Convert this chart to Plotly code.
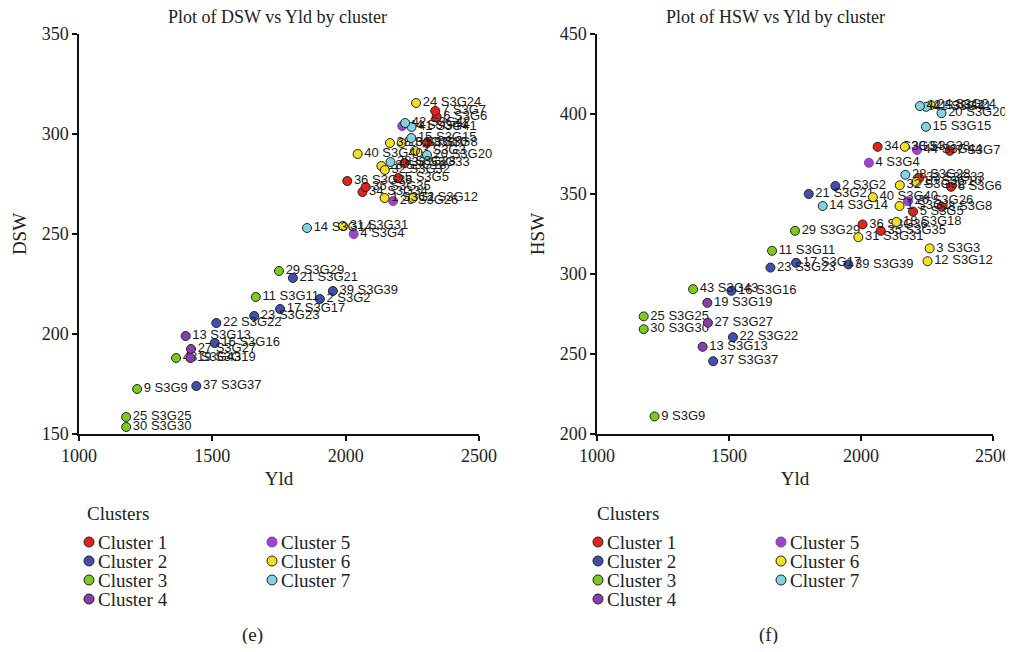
import plotly.graph_objects as go

# ---- data ----
genotype = [1, 2, 3, 4, 5, 6, 7, 8, 9, 10, 11, 12, 13, 14, 15, 16, 17, 18, 19, 20, 21, 22,
            23, 24, 25, 26, 27, 28, 29, 30, 31, 32, 33, 34, 35, 36, 37, 38, 39, 40, 41, 42, 43, 44]
cluster = [6, 2, 6, 5, 1, 1, 1, 1, 3, 6, 3, 6, 4, 7, 7, 2, 2, 6, 4, 7, 2, 2,
           2, 6, 3, 5, 4, 7, 3, 3, 6, 6, 1, 1, 1, 1, 2, 6, 2, 6, 7, 7, 3, 5]
yld = [2146, 1903, 2260, 2030, 2197, 2341, 2336, 2305, 1218, 2210, 1663, 2252, 1400, 1855, 2246, 1509,
       1754, 2134, 1418, 2305, 1802, 1515, 1657, 2264, 1177, 2178, 1420, 2168, 1750, 1177, 1990, 2147,
       2221, 2063, 2075, 2006, 1440, 2166, 1952, 2045, 2247, 2223, 1364, 2212]
dsw = [268, 217.5, 291.5, 250, 278, 308.5, 311.5, 295.5, 172.5, 295.5, 218.5, 268, 199, 253, 298, 195.5,
       212.5, 284, 188, 289.5, 228, 205.5, 209, 315.5, 158.5, 266.5, 192.5, 286, 231.5, 153.5, 254, 282,
       285.5, 271, 273.5, 276.5, 174, 295.5, 221.5, 290, 303.5, 305.5, 188, 304]
hsw = [342.5, 355, 316, 369.5, 339, 354.5, 377, 342, 211, 357.5, 314.5, 308, 254.5, 342.5, 392, 289.5,
       307, 332.5, 282, 400.5, 350, 260.5, 304, 405.5, 273.5, 345.5, 269.5, 362, 327, 265.5, 323, 355.5,
       360, 379.5, 327, 331, 245.5, 379.5, 306, 348, 404.5, 405, 290.5, 377.5]

cluster_names = ["Cluster 1", "Cluster 2", "Cluster 3", "Cluster 4", "Cluster 5", "Cluster 6", "Cluster 7"]
cluster_colors = ["#E3241C", "#4150B0", "#7CCB1C", "#8A3DAE", "#9C45CC", "#F4E01C", "#80D2E4"]
cluster_lines = ["#222222", "#222222", "#222222", "#222222", "#8A38B8", "#222222", "#222222"]

x_ticks = [1000, 1500, 2000, 2500]
dsw_ticks = [150, 200, 250, 300, 350]
hsw_ticks = [200, 250, 300, 350, 400, 450]

# page is 1013x652; the html body has an 8px margin, so the figure is smaller
OFF = 8
W, H = 1013 - 2 * OFF, 652 - 2 * OFF
SERIF = "Liberation Serif, Times New Roman, serif"
SANS = "Liberation Sans, Arial, sans-serif"

fig = go.Figure()

for ci, name in enumerate(cluster_names, start=1):
    idx = [i for i, c in enumerate(cluster) if c == ci]
    labels = [f"{genotype[i]} S3G{genotype[i]}" for i in idx]
    common = dict(
        mode="markers+text",
        text=labels,
        textposition="middle right",
        textfont=dict(family=SANS, size=13, color="#1a1a1a"),
        marker=dict(size=9, color=cluster_colors[ci - 1],
                    line=dict(color=cluster_lines[ci - 1], width=1)),
        cliponaxis=False,
        showlegend=False,
        name=name,
    )
    fig.add_trace(go.Scatter(x=[yld[i] for i in idx], y=[dsw[i] for i in idx],
                             xaxis="x", yaxis="y", **common))
    fig.add_trace(go.Scatter(x=[yld[i] for i in idx], y=[hsw[i] for i in idx],
                             xaxis="x2", yaxis="y2", **common))


def px(xp):
    return (xp - OFF) / W


def py(yp):
    return 1 - (yp - OFF) / H


axis_common = dict(
    showline=True, linecolor="#111", linewidth=1.5, ticks="outside", ticklen=5,
    tickwidth=1.5, tickcolor="#111", showgrid=False, zeroline=False,
    tickfont=dict(family=SERIF, size=18, color="#222"), automargin=False,
    ticklabeloverflow="allow",
)

fig.update_layout(
    width=W, height=H,
    margin=dict(l=0, r=0, t=0, b=0),
    paper_bgcolor="white", plot_bgcolor="white",
    xaxis=dict(domain=[px(79), px(479)], range=[1000, 2500], tickvals=x_ticks, anchor="y",
               title=dict(text="Yld", font=dict(family=SERIF, size=19, color="#222"), standoff=6),
               **axis_common),
    yaxis=dict(domain=[py(434), py(34)], range=[150, 350], tickvals=dsw_ticks, anchor="x",
               title=dict(text="DSW", font=dict(family=SERIF, size=19, color="#222"), standoff=10),
               **axis_common),
    xaxis2=dict(domain=[px(597), px(993)], range=[1000, 2500], tickvals=x_ticks, anchor="y2",
                title=dict(text="Yld", font=dict(family=SERIF, size=19, color="#222"), standoff=6),
                **axis_common),
    yaxis2=dict(domain=[py(434), py(34)], range=[200, 450], tickvals=hsw_ticks, anchor="x2",
                title=dict(text="HSW", font=dict(family=SERIF, size=19, color="#222"), standoff=10),
                **axis_common),
)

annotations = []
shapes = []


def text_ann(txt, x, y, size, xanchor="left"):
    annotations.append(dict(text=txt, x=px(x), y=py(y), xref="paper", yref="paper",
                            xanchor=xanchor, yanchor="middle", showarrow=False,
                            font=dict(family=SERIF, size=size, color="#222")))


# titles
text_ann("Plot of DSW vs Yld by cluster", 277, 17, 18, "center")
text_ann("Plot of HSW vs Yld by cluster", 775, 17, 18, "center")

# legends (one per panel)
legend_origins = [(85, 89, 272), (595, 598, 781)]
row_y = [542, 561, 580, 599]
for title_x, col1_x, col2_x in legend_origins:
    text_ann("Clusters", title_x, 513, 19)
    for k, name in enumerate(cluster_names):
        if k < 4:
            mx, my = col1_x, row_y[k]
        else:
            mx, my = col2_x, row_y[k - 4]
        shapes.append(dict(type="circle", xref="paper", yref="paper",
                           xsizemode="pixel", ysizemode="pixel",
                           xanchor=px(mx), yanchor=py(my),
                           x0=-5, x1=5, y0=-5, y1=5,
                           fillcolor=cluster_colors[k],
                           line=dict(color=cluster_lines[k], width=1)))
        text_ann(name, mx + 7, my, 19)

# captions
text_ann("(e)", 252, 635, 19, "center")
text_ann("(f)", 768, 635, 19, "center")

fig.update_layout(annotations=annotations, shapes=shapes)

fig.write_html("out.html")
